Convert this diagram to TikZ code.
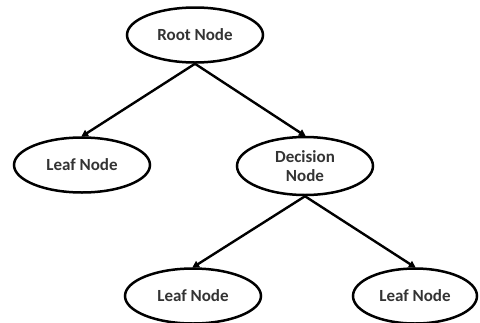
\documentclass[tikz,border=0pt]{standalone}
\usepackage{fontspec}
\setmainfont{Carlito}
\usetikzlibrary{shapes.geometric,arrows.meta}
\tikzset{
  treenode/.style={draw=black, line width=2.5pt, ellipse, inner sep=0pt,
    minimum width=136pt, minimum height=55pt, align=center,
    font=\fontsize{17}{19}\selectfont\bfseries, text=black!80},
  link/.style={line width=2.4pt, -{Triangle[length=7pt,width=7pt]}, shorten >=-1pt}
}
\begin{document}
\begin{tikzpicture}[x=1pt,y=-1pt]
\useasboundingbox (0,0) rectangle (480,322);
\node[treenode] (root) at (195,35) {Root Node};
\node[treenode] (leafa) at (82,165) {Leaf Node};
\node[treenode, minimum height=58pt] (dec) at (305,166) {Decision\\Node};
\node[treenode] (leafb) at (193,296) {Leaf Node};
\node[treenode, minimum width=124pt] (leafc) at (415,296) {Leaf Node};
\draw[link] (root.south) -- (leafa.north);
\draw[link] (root.south) -- (dec.north);
\draw[link] (dec.south) -- (leafb.north);
\draw[link] (dec.south) -- (leafc.north);
\end{tikzpicture}
\end{document}
